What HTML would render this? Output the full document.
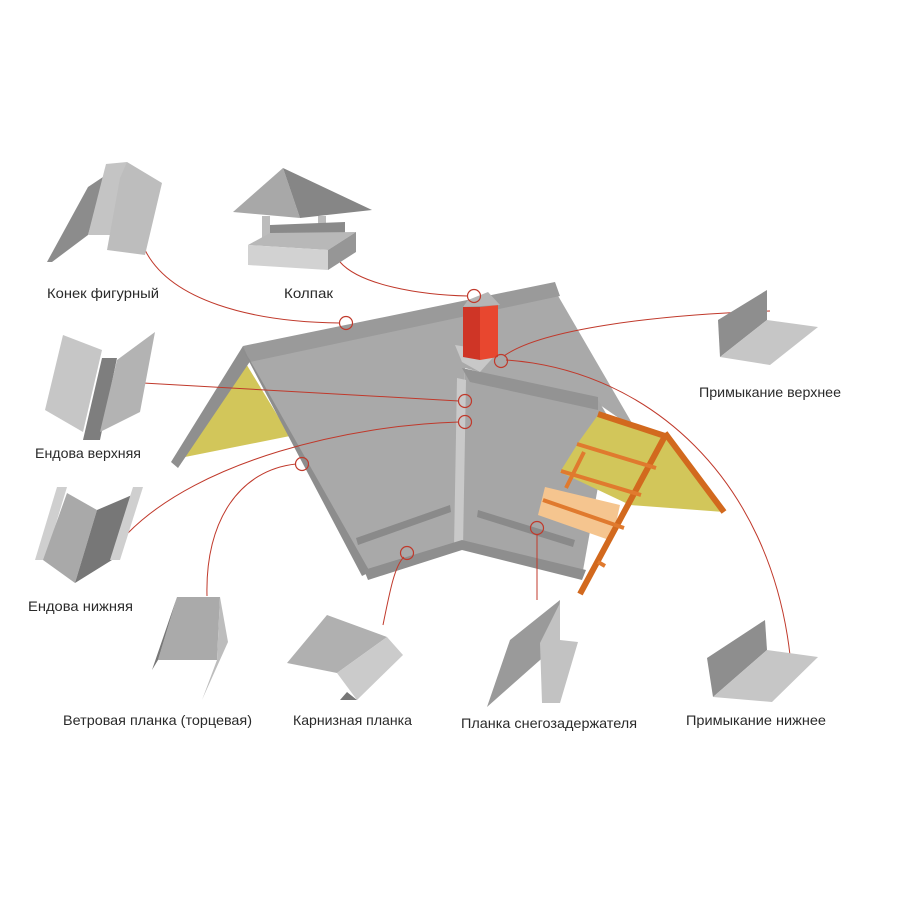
<!DOCTYPE html>
<html><head><meta charset="utf-8"><style>
html,body{margin:0;padding:0;background:#fff}
svg{display:block}
text{font-family:"Liberation Sans","DejaVu Sans",sans-serif;font-size:14px;fill:#2a2a2a}
</style></head><body>
<svg width="900" height="900" viewBox="0 0 900 900" xmlns="http://www.w3.org/2000/svg">
<rect width="900" height="900" fill="#fff"/>

<!-- Left gable yellow + edge -->
<polygon points="245,362 180,458 290,436" fill="#d2c65a"/>
<polygon points="243,346 251,360 178,468 171,462" fill="#8f8f8f"/>

<!-- Back roof -->
<polygon points="250,360 557,294 636,430 600,405 465,368 462,545 365,572" fill="#a9a9a9"/>
<!-- ridge strip -->
<polygon points="243,346 555,282 560,296 250,362" fill="#9a9a9a"/>
<!-- left edge of wing -->
<polygon points="243,350 250,360 370,572 362,576" fill="#8d8d8d"/>
<!-- right face of wing -->
<polygon points="465,370 598,400 610,420 582,576 462,548" fill="#a6a6a6"/>
<polygon points="462,368 598,397 598,410 470,382" fill="#939393"/>
<!-- valley strip -->
<polygon points="457,378 466,380 463,548 454,548" fill="#c9c9c9"/>
<!-- eave strips -->
<polygon points="364,570 462,540 462,550 368,580" fill="#8e8e8e"/>
<polygon points="462,540 586,570 582,580 462,550" fill="#8e8e8e"/>
<!-- snow guard bars -->
<polygon points="356,538 450,505 451,512 358,545" fill="#8a8a8a"/>
<polygon points="478,510 575,540 573,547 477,517" fill="#8a8a8a"/>

<!-- Right gable yellow -->
<polygon points="598,415 664,436 724,512 630,505 560,472 580,440" fill="#d2c65a"/>
<polygon points="545,487 620,505 612,541 538,515" fill="#f5c58f"/>
<!-- rafters / laths -->
<g stroke="#d2691e" stroke-width="6" stroke-linecap="butt" fill="none">
<line x1="665" y1="436" x2="580" y2="594"/>
<line x1="665" y1="433" x2="724" y2="512"/>
<line x1="598" y1="414" x2="665" y2="436"/>
</g>
<g stroke="#e07a2e" stroke-width="4" fill="none">
<line x1="577" y1="444" x2="656" y2="468"/>
<line x1="561" y1="471" x2="641" y2="495"/>
<line x1="543" y1="500" x2="624" y2="528"/>
<line x1="584" y1="452" x2="566" y2="488"/>
<line x1="598" y1="562" x2="605" y2="566"/>
</g>

<!-- Chimney -->
<polygon points="455,345 498,352 480,372 462,362" fill="#c8c8c8"/>
<polygon points="463,307 480,307 480,360 463,357" fill="#cf3526"/>
<polygon points="480,307 498,305 498,357 480,360" fill="#e8472f"/>
<polygon points="468,300 488,292 500,305 463,307" fill="#b5b5b5"/>

<!-- red connectors -->
<g stroke="#c0392b" stroke-width="1" fill="none">
<path d="M145,250 C170,300 250,322 340,323"/>
<path d="M340,262 C360,285 420,295 468,296"/>
<path d="M504,356 C540,330 650,315 770,311"/>
<path d="M143,383 L459,401"/>
<path d="M128,533 C200,460 350,425 459,422"/>
<path d="M207,596 C205,520 240,470 296,464"/>
<path d="M383,625 C390,590 395,565 404,557"/>
<path d="M537,600 L537,534"/>
<path d="M506,360 C650,370 770,480 790,655"/>
</g>
<g stroke="#c0392b" stroke-width="1.2" fill="none">
<circle cx="346" cy="323" r="6.5"/>
<circle cx="474" cy="296" r="6.5"/>
<circle cx="501" cy="361" r="6.5"/>
<circle cx="465" cy="401" r="6.5"/>
<circle cx="465" cy="422" r="6.5"/>
<circle cx="302" cy="464" r="6.5"/>
<circle cx="407" cy="553" r="6.5"/>
<circle cx="537" cy="528" r="6.5"/>
</g>

<!-- Конек фигурный -->
<polygon points="47,262 88,187 106,175 88,235 52,262" fill="#8c8c8c"/>
<polygon points="106,164 127,162 118,235 88,235" fill="#c4c4c4"/>
<polygon points="120,178 127,162 162,183 145,255 107,250" fill="#bdbdbd"/>
<!-- Колпак -->
<polygon points="283,168 233,212 300,218" fill="#a8a8a8"/>
<polygon points="283,168 300,218 372,210" fill="#868686"/>
<polygon points="262,216 270,216 270,240 262,240" fill="#bcbcbc"/>
<polygon points="318,216 326,216 326,240 318,240" fill="#bcbcbc"/>
<polygon points="270,225 345,222 345,238 270,238" fill="#8a8a8a"/>
<polygon points="248,245 270,233 356,232 328,250" fill="#b8b8b8"/>
<polygon points="248,245 328,250 328,270 248,265" fill="#d2d2d2"/>
<polygon points="328,250 356,232 356,252 328,270" fill="#969696"/>
<!-- Ендова верхняя -->
<polygon points="63,335 102,350 83,432 45,410" fill="#c6c6c6"/>
<polygon points="102,358 117,358 100,440 83,440" fill="#7e7e7e"/>
<polygon points="117,360 155,332 140,412 100,432" fill="#b3b3b3"/>
<!-- Ендова нижняя -->
<polygon points="57,487 67,487 45,560 35,560" fill="#cfcfcf"/>
<polygon points="67,493 97,510 75,583 43,560" fill="#a9a9a9"/>
<polygon points="97,510 132,495 112,560 75,583" fill="#777"/>
<polygon points="133,487 143,487 120,560 110,560" fill="#cfcfcf"/>
<!-- Ветровая -->
<polygon points="177,597 220,597 217,660 158,660" fill="#aaaaaa"/>
<polygon points="177,597 152,670 158,660" fill="#777"/>
<polygon points="220,597 228,642 202,700 217,660" fill="#bdbdbd"/>
<!-- Карнизная -->
<polygon points="327,615 387,637 337,673 287,663" fill="#b0b0b0"/>
<polygon points="387,637 403,655 357,700 337,673" fill="#cbcbcb"/>
<polygon points="347,692 357,700 340,700" fill="#777"/>
<!-- Примыкание верхнее -->
<polygon points="718,320 767,290 767,320 720,357" fill="#8e8e8e"/>
<polygon points="720,357 767,320 818,327 770,365" fill="#c6c6c6"/>
<!-- Планка снегозадержателя -->
<polygon points="510,640 560,600 557,645 487,707" fill="#9a9a9a"/>
<polygon points="540,643 560,603 560,640 578,642 560,703 542,703" fill="#c2c2c2"/>
<!-- Примыкание нижнее -->
<polygon points="707,658 765,620 767,650 713,697" fill="#8e8e8e"/>
<polygon points="713,697 767,650 818,657 772,702" fill="#c6c6c6"/>

<!-- labels -->
<text x="47" y="298" textLength="112" lengthAdjust="spacingAndGlyphs">Конек фигурный</text>
<text x="284" y="298" textLength="49" lengthAdjust="spacingAndGlyphs">Колпак</text>
<text x="35" y="458" textLength="106" lengthAdjust="spacingAndGlyphs">Ендова верхняя</text>
<text x="28" y="611" textLength="105" lengthAdjust="spacingAndGlyphs">Ендова нижняя</text>
<text x="63" y="725" textLength="189" lengthAdjust="spacingAndGlyphs">Ветровая планка (торцевая)</text>
<text x="293" y="725" textLength="119" lengthAdjust="spacingAndGlyphs">Карнизная планка</text>
<text x="461" y="728" textLength="176" lengthAdjust="spacingAndGlyphs">Планка снегозадержателя</text>
<text x="699" y="397" textLength="142" lengthAdjust="spacingAndGlyphs">Примыкание верхнее</text>
<text x="686" y="725" textLength="140" lengthAdjust="spacingAndGlyphs">Примыкание нижнее</text>
</svg>
</body></html>
